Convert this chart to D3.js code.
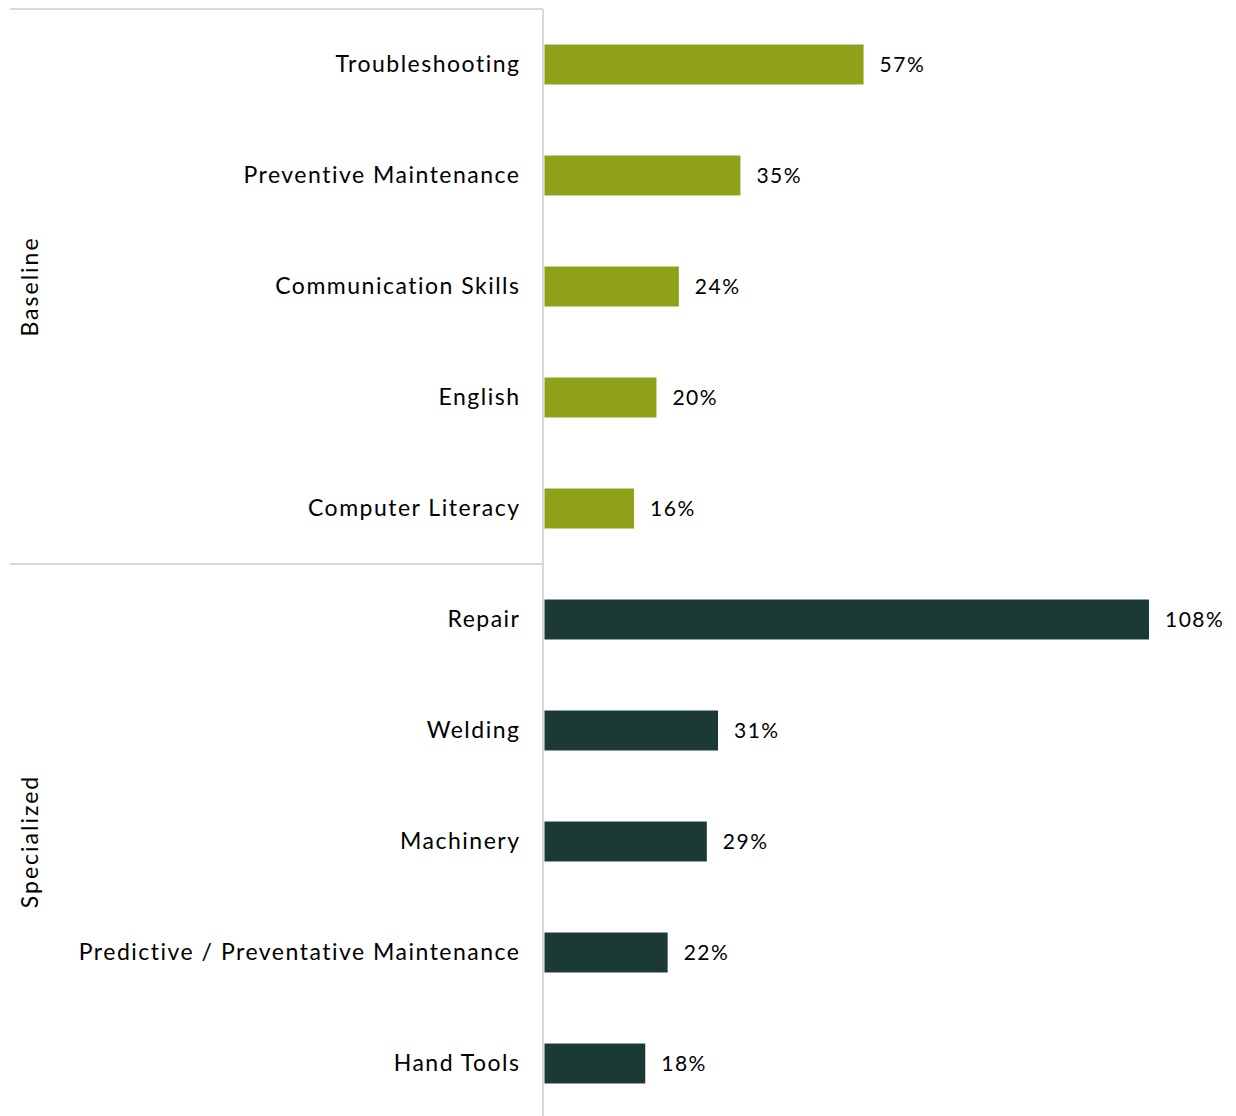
<!DOCTYPE html>
<html>
<head>
<meta charset="utf-8">
<script src="https://cdn.jsdelivr.net/npm/d3@7"></script>
<style>
  body { margin: 0; background: #fff; }
  text { font-family: "Lato", "Open Sans", sans-serif; fill: #000; letter-spacing: 1.5px; }
</style>
</head>
<body>
<div id="chart"></div>
<script>
const width = 1236, height = 1116;

const groups = ["Baseline", "Specialized"];
const skills = ["Troubleshooting", "Preventive Maintenance", "Communication Skills", "English", "Computer Literacy",
                "Repair", "Welding", "Machinery", "Predictive / Preventative Maintenance", "Hand Tools"];
const skillGroup = ["Baseline", "Baseline", "Baseline", "Baseline", "Baseline",
                    "Specialized", "Specialized", "Specialized", "Specialized", "Specialized"];
const values = [57, 35, 24, 20, 16, 108, 31, 29, 22, 18];
const groupColors = ["#8fa019", "#1c3a35"];

const rows = skills.map((s, i) => ({ skill: s, group: skillGroup[i], value: values[i] }));

const axisX = 543, plotLeft = 10, plotTop = 9, plotBottom = 1119;

const y = d3.scaleBand()
    .domain(skills)
    .range([plotTop, plotBottom])
    .paddingInner(0.64)
    .paddingOuter(0.32);

const x = d3.scaleLinear()
    .domain([0, 108])
    .range([axisX + 1.5, 1149]);

const color = d3.scaleOrdinal().domain(groups).range(groupColors);

const svg = d3.select("#chart").append("svg")
    .attr("width", width)
    .attr("height", height);

// bars
svg.selectAll("rect.bar")
    .data(rows)
    .enter()
    .append("rect")
    .attr("class", "bar")
    .attr("x", x(0))
    .attr("y", d => y(d.skill))
    .attr("width", d => x(d.value) - x(0))
    .attr("height", y.bandwidth())
    .attr("fill", d => color(d.group));

// value labels
svg.selectAll("text.val")
    .data(rows)
    .enter()
    .append("text")
    .attr("class", "val")
    .attr("x", d => x(d.value) + 16)
    .attr("y", d => y(d.skill) + y.bandwidth() / 2)
    .attr("dy", "0.35em")
    .style("font-size", "21px")
    .text(d => d.value + "%");

// category axis (labels only)
const yAxis = svg.append("g")
    .attr("transform", "translate(" + (axisX - 22.5) + ",0)")
    .call(d3.axisLeft(y).tickSize(0).tickPadding(0));
yAxis.select(".domain").remove();
yAxis.selectAll("text")
    .style("font-size", "23px")
    .style("font-family", "Lato, 'Open Sans', sans-serif")
    .style("letter-spacing", "1.5px")
    .attr("fill", "#000");

// frame lines
const lineColor = "#d9d9d9";
const step = y.step();
const groupEdges = [plotTop, plotTop + step * 5, plotBottom];

svg.append("line")
    .attr("x1", axisX).attr("x2", axisX)
    .attr("y1", plotTop).attr("y2", height)
    .attr("stroke", lineColor).attr("stroke-width", 2);

svg.selectAll("line.sep")
    .data(groupEdges.slice(0, 2))
    .enter()
    .append("line")
    .attr("class", "sep")
    .attr("x1", plotLeft).attr("x2", axisX)
    .attr("y1", d => d).attr("y2", d => d)
    .attr("stroke", lineColor).attr("stroke-width", 2);

// group labels
svg.selectAll("text.grp")
    .data(groups)
    .enter()
    .append("text")
    .attr("class", "grp")
    .attr("transform", (d, i) => "translate(38," + ((groupEdges[i] + groupEdges[i + 1]) / 2) + ") rotate(-90)")
    .attr("text-anchor", "middle")
    .style("font-size", "23px")
    .style("letter-spacing", "2px")
    .text(d => d);
</script>
</body>
</html>
